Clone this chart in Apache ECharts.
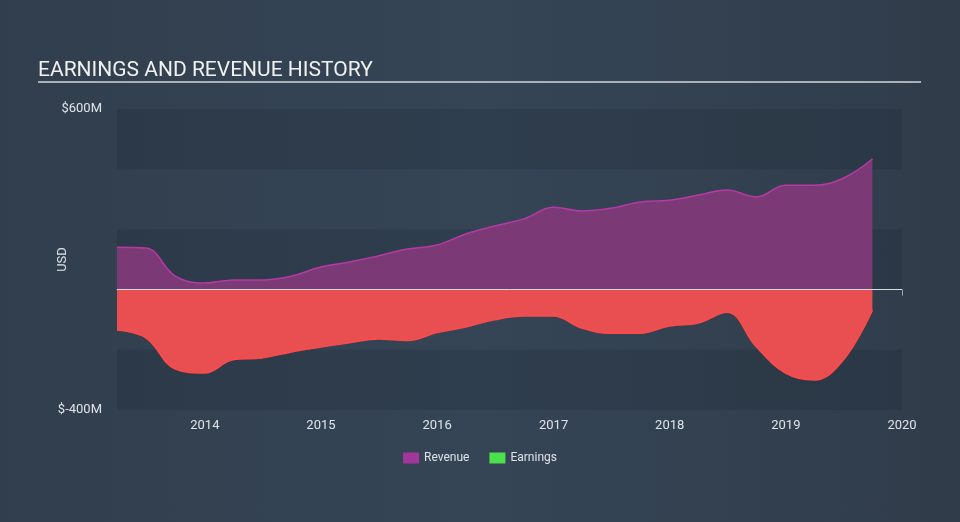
<!DOCTYPE html>
<html><head><meta charset="utf-8">
<script src="https://cdn.jsdelivr.net/npm/echarts@6/dist/echarts.min.js"></script>
<style>
html,body{margin:0;padding:0;width:960px;height:522px;overflow:hidden;}
body{background:linear-gradient(90deg,#313e4d 0%,#354556 50%,#303c4a 100%);}
#c{width:960px;height:522px;}
</style></head><body><div id="c"></div>
<script>
const dates = ['2013-03-31','2013-06-30','2013-09-30','2013-12-31','2014-03-31','2014-06-30','2014-09-30','2014-12-31','2015-03-31','2015-06-30','2015-09-30','2015-12-31','2016-03-31','2016-06-30','2016-09-30','2016-12-31','2017-03-31','2017-06-30','2017-09-30','2017-12-31','2018-03-31','2018-06-30','2018-09-30','2018-12-31','2019-03-31','2019-06-30','2019-09-30'];
const revenue = [141,138,45,22,32,32,45,75,92,112,135,148,185,211,235,274,261,270,291,297,314,331,308,347,347,370,434];
const earnings = [-134,-160,-264,-277,-233,-227,-207,-191,-177,-164,-169,-143,-124,-100,-88,-88,-128,-145,-145,-121,-111,-75,-190,-277,-300,-235,-68];
const yTickLabels = {600:'$600M', '-400':'$-400M'};

const chart = echarts.init(document.getElementById('c'), null, {renderer:'canvas'});
const font = 'Roboto, "Open Sans", sans-serif';
chart.setOption({
  backgroundColor: 'transparent',
  animation: false,
  title: {
    text: 'EARNINGS AND REVENUE HISTORY',
    left: 33, top: 55,
    textStyle: {color:'#f0f0f0', fontSize: 21, fontWeight: 'normal', fontFamily: font}
  },
  graphic: [{
    type: 'rect', shape: {x: 38, y: 81, width: 883, height: 2},
    style: {fill: '#a9b0b8'}
  }],
  legend: {
    bottom: 53, left: 'center',
    itemWidth: 16, itemHeight: 11, itemGap: 20,
    icon: 'rect',
    textStyle: {color:'#dfe3e8', fontSize: 12, fontFamily: font},
    data: [
      {name:'Revenue', itemStyle:{color:'#a2379b'}},
      {name:'Earnings', itemStyle:{color:'#4ddf4d'}}
    ]
  },
  grid: {left: 117, right: 58, top: 109, bottom: 112},
  xAxis: {
    type: 'time',
    min: '2013-03-31', max: '2020-01-01',
    splitNumber: 7,
    minInterval: 365*24*3600*1000,
    axisLine: {lineStyle: {color: '#9aa4b0', width: 1}},
    axisTick: {show: true, length: 6, lineStyle: {color: '#9aa4b0'}},
    axisLabel: {color: '#e0e4e8', fontSize: 13, fontFamily: font, margin: 9, formatter: '{yyyy}', showMaxLabel: true},
    splitLine: {show: false}
  },
  yAxis: {
    type: 'value', min: -400, max: 600, interval: 200,
    name: 'USD', nameLocation: 'middle', nameRotate: 90, nameGap: 48,
    nameMoveOverlap: false,
    nameTextStyle: {color: '#e0e4e8', fontSize: 13, fontFamily: font},
    axisLine: {show: false}, axisTick: {show: false},
    axisLabel: {color: '#e0e4e8', fontSize: 13, fontFamily: font, margin: 15,
      formatter: v => yTickLabels[v] || ''},
    splitLine: {show: false},
    splitArea: {show: true, areaStyle: {color: ['rgba(20,30,42,0.17)', 'rgba(255,255,255,0.0)']}}
  },
  series: [
    {
      name: 'Revenue', type: 'line', smooth: 0.4, symbol: 'none',
      data: dates.map((d,i) => [d, revenue[i]]),
      itemStyle: {color: '#a2379b'},
      lineStyle: {color: '#b53aa5', width: 1.5},
      areaStyle: {color: '#7b3a76', opacity: 1},
      z: 2
    },
    {
      name: 'Earnings', type: 'line', smooth: 0.4, symbol: 'none',
      data: dates.map((d,i) => [d, earnings[i]]),
      itemStyle: {color: '#4ddf4d'},
      lineStyle: {color: '#ff4a4a', width: 1.5},
      areaStyle: {color: '#e94f51', opacity: 1},
      z: 2,
      markLine: {
        silent: true, symbol: 'none', label: {show: false},
        lineStyle: {color: '#d8dde2', width: 1, type: 'solid'},
        data: [{yAxis: 0}]
      }
    }
  ]
});
</script></body></html>
